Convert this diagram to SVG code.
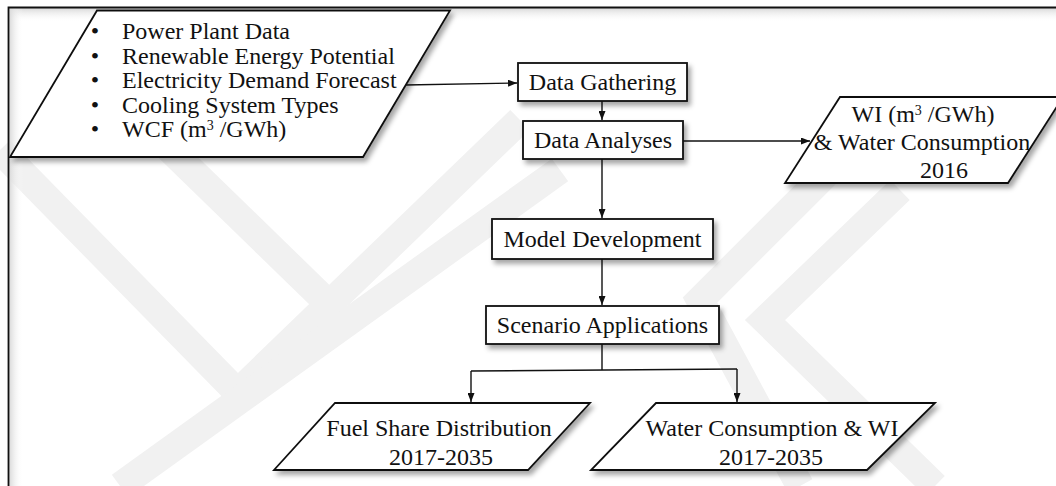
<svg xmlns="http://www.w3.org/2000/svg" width="1056" height="486" viewBox="0 0 1056 486">
<defs>
<style>
.t{font-family:"Liberation Serif","Times New Roman",serif;font-size:24px;fill:#111}
.m{text-anchor:middle}
.s{fill:#fff;stroke:#111;stroke-width:1.8}
.c{fill:none;stroke:#111;stroke-width:1.4}
.wm{fill:none;stroke:#f1f1f1;stroke-width:28;stroke-linecap:butt}
.sup{font-size:14px}
</style>
<filter id="sh" x="-10%" y="-10%" width="130%" height="150%"><feDropShadow dx="3" dy="4" stdDeviation="2.5" flood-color="#000" flood-opacity="0.35"/></filter>
<linearGradient id="gt" x1="0" y1="0" x2="0" y2="1"><stop offset="0" stop-color="#d8d8d8"/><stop offset="1" stop-color="#fff" stop-opacity="0"/></linearGradient>
<linearGradient id="gl" x1="0" y1="0" x2="1" y2="0"><stop offset="0" stop-color="#d8d8d8"/><stop offset="1" stop-color="#fff" stop-opacity="0"/></linearGradient>
<marker id="ah" markerWidth="9" markerHeight="7" refX="9" refY="3.5" orient="auto" markerUnits="userSpaceOnUse"><path d="M0,0 L9,3.5 L0,7 z" fill="#111"/></marker>
</defs>
<rect width="1056" height="486" fill="#fff"/>
<g id="watermark">
<path class="wm" d="M0,150 L240,395"/>
<path class="wm" d="M150,130 L330,305"/>
<path class="wm" d="M230,400 L520,120"/>
<path class="wm" d="M120,486 L560,170"/>
<path class="wm" d="M900,190 L765,320 L935,486"/>
<path class="wm" d="M830,170 L700,300 L800,486"/>
</g>
<g id="frame">
<rect x="9" y="8" width="1047" height="14" fill="url(#gt)"/>
<rect x="9" y="8" width="14" height="478" fill="url(#gl)"/>
<path d="M8.5,486 L8.5,7.5 L1056,7.5" fill="none" stroke="#111" stroke-width="1.8"/>
</g>
<g id="connectors">
<path class="c" d="M405,85 L517,83" marker-end="url(#ah)"/>
<path class="c" d="M602,101 L602,120" marker-end="url(#ah)"/>
<path class="c" d="M683,141 L810,141" marker-end="url(#ah)"/>
<path class="c" d="M602,159 L602,218" marker-end="url(#ah)"/>
<path class="c" d="M602,259 L602,305" marker-end="url(#ah)"/>
<path class="c" d="M602,344 L602,370"/>
<path class="c" d="M471,371 L737,369"/>
<path class="c" d="M471,371 L471,402" marker-end="url(#ah)"/>
<path class="c" d="M737,369 L737,402" marker-end="url(#ah)"/>
</g>
<g id="inputs">
<path class="s" filter="url(#sh)" d="M10,157 L363,157 L450,10.5 L97,10.5 Z"/>
<g class="t">
<text x="95" y="39" class="m">•</text><text x="122" y="39">Power Plant Data</text>
<text x="95" y="63.5" class="m">•</text><text x="122" y="63.5">Renewable Energy Potential</text>
<text x="95" y="88" class="m">•</text><text x="122" y="88">Electricity Demand Forecast</text>
<text x="95" y="112.5" class="m">•</text><text x="122" y="112.5">Cooling System Types</text>
<text x="95" y="137" class="m">•</text><text x="122" y="137">WCF (m<tspan class="sup" dy="-7">3</tspan><tspan dy="7"> /GWh)</tspan></text>
</g>
</g>
<g id="data-gathering">
<rect class="s" filter="url(#sh)" x="518" y="63" width="169" height="38"/>
<text class="t m" x="602.5" y="90">Data Gathering</text>
</g>
<g id="data-analyses">
<rect class="s" filter="url(#sh)" x="523" y="121" width="160" height="38"/>
<text class="t m" x="603" y="148">Data Analyses</text>
</g>
<g id="wi-output">
<path class="s" filter="url(#sh)" d="M785,183 L1008,183 L1063,97 L840,97 Z"/>
<text class="t m" x="923" y="122">WI (m<tspan class="sup" dy="-7">3</tspan><tspan dy="7"> /GWh)</tspan></text>
<text class="t m" x="922" y="150">&amp; Water Consumption</text>
<text class="t m" x="944" y="178">2016</text>
</g>
<g id="model-development">
<rect class="s" filter="url(#sh)" x="492" y="219" width="221" height="40"/>
<text class="t m" x="602.5" y="247">Model Development</text>
</g>
<g id="scenario-applications">
<rect class="s" filter="url(#sh)" x="486" y="306" width="233" height="38"/>
<text class="t m" x="602.5" y="333">Scenario Applications</text>
</g>
<g id="fuel-share">
<path class="s" filter="url(#sh)" d="M274,470 L528,470 L590,403 L335,403 Z"/>
<text class="t m" x="439" y="436">Fuel Share Distribution</text>
<text class="t m" x="441" y="465">2017-2035</text>
</g>
<g id="water-consumption">
<path class="s" filter="url(#sh)" d="M591,470 L867,470 L935,403 L656,403 Z"/>
<text class="t m" x="772" y="436">Water Consumption &amp; WI</text>
<text class="t m" x="771" y="465">2017-2035</text>
</g>
</svg>
